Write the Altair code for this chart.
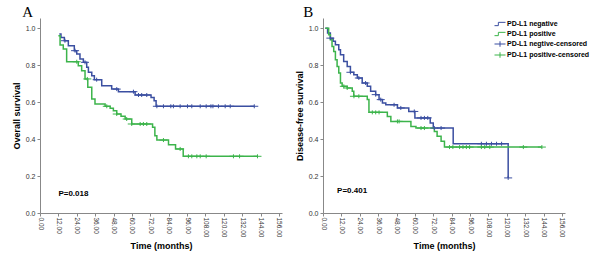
import altair as alt
import pandas as pd

# ---------------- data ----------------
KEYS = ["PD-L1 negative", "PD-L1 positive", "PD-L1 negtive-censored", "PD-L1 positive-censored"]

# Panel A: overall survival
A_NEG_T = [12.6, 13.7, 15.9, 18.5, 22.4, 24.0, 26.1, 28.3, 30.5, 31.6, 33.8, 35.5, 40.3, 46.8, 51.2, 62.1, 72.5, 74.5, 75.8, 139.9]
A_NEG_S = [0.969, 0.951, 0.933, 0.906, 0.879, 0.861, 0.834, 0.816, 0.789, 0.762, 0.743, 0.722, 0.689, 0.671, 0.657, 0.639, 0.626, 0.608, 0.578, 0.578]
A_POS_T = [12.0, 13.1, 15.2, 17.4, 25.0, 27.2, 29.4, 31.2, 33.8, 35.9, 42.5, 45.8, 47.9, 50.1, 52.9, 55.6, 59.9, 73.5, 75.0, 76.3, 83.9, 88.5, 93.5, 142.0]
A_POS_S = [0.960, 0.910, 0.888, 0.819, 0.798, 0.771, 0.726, 0.681, 0.618, 0.590, 0.578, 0.567, 0.554, 0.536, 0.524, 0.509, 0.482, 0.464, 0.419, 0.395, 0.370, 0.347, 0.307, 0.307]
A_NEG_CENS = [16.3, 22.9, 29.4, 37.0, 50.1, 61.0, 64.3, 66.4, 69.7, 76.3, 80.6, 85.4, 87.1, 91.5, 96.3, 99.1, 104.6, 108.5, 111.6, 112.9, 116.5, 120.9, 124.2, 139.9]
A_POS_CENS = [24.0, 30.9, 43.6, 50.1, 56.6, 59.9, 65.4, 67.5, 69.7, 80.6, 91.5, 96.9, 99.1, 102.4, 104.6, 108.5, 126.3, 130.3, 142.0]

# Panel B: disease-free survival
B_NEG_T = [1.5, 3.0, 4.8, 6.6, 8.1, 10.3, 11.4, 13.5, 15.8, 17.9, 20.1, 22.4, 25.6, 28.9, 31.1, 34.4, 36.6, 38.8, 41.0, 48.6, 56.0, 60.0, 70.0, 72.0, 85.0, 120.9]
B_NEG_S = [1.0, 0.975, 0.947, 0.930, 0.911, 0.884, 0.857, 0.821, 0.794, 0.762, 0.749, 0.731, 0.704, 0.686, 0.659, 0.641, 0.614, 0.596, 0.586, 0.569, 0.550, 0.515, 0.487, 0.460, 0.375, 0.190]
B_POS_T = [1.5, 3.7, 4.8, 5.9, 7.0, 8.1, 9.2, 10.3, 11.4, 12.5, 15.8, 19.1, 20.1, 28.9, 30.0, 42.0, 44.3, 57.4, 60.7, 72.7, 74.5, 77.1, 79.3, 142.9]
B_POS_S = [1.0, 0.965, 0.938, 0.902, 0.875, 0.830, 0.794, 0.758, 0.704, 0.686, 0.677, 0.659, 0.632, 0.614, 0.545, 0.523, 0.496, 0.469, 0.460, 0.442, 0.415, 0.388, 0.357, 0.357]
B_NEG_CENS = [4.8, 17.9, 23.4, 27.8, 34.4, 37.7, 46.4, 50.8, 59.6, 64.0, 66.2, 68.4, 72.7, 77.1, 103.4, 106.7, 110.0, 113.3, 116.6, 120.9]
B_POS_CENS = [13.6, 15.8, 20.2, 23.4, 32.2, 34.4, 36.6, 48.6, 49.7, 64.0, 66.2, 82.6, 84.8, 89.2, 91.4, 93.6, 95.7, 103.4, 105.6, 108.9, 130.8, 142.9]

X_TICKS = list(range(0, 157, 12))
Y_TICKS = [0.0, 0.2, 0.4, 0.6, 0.8, 1.0]

BLUE = "#3b4fa1"
GREEN = "#3cb44b"
STEP_PATH = "M-1,0.3L-0.3,0.3L-0.3,-0.3L1,-0.3"
PLUS_PATH = "M-1,0L1,0M0,-0.5L0,0.5"
FONT = "Liberation Sans"


def surv_at(T, S, t):
    val = S[0]
    for ti, si in zip(T, S):
        if ti <= t + 1e-9:
            val = si
    return val


def panel(letter, ytitle, negT, negS, posT, posS, negC, posC, ptext, p_t, p_s, show_legend, title_dx):
    neg = pd.DataFrame({"t": negT, "s": negS})
    pos = pd.DataFrame({"t": posT, "s": posS})
    cens = pd.DataFrame({
        "t": negC + posC,
        "s": [surv_at(negT, negS, t) for t in negC] + [surv_at(posT, posS, t) for t in posC],
        "key": [KEYS[2]] * len(negC) + [KEYS[3]] * len(posC),
    })
    ptxt = pd.DataFrame({"t": [p_t], "s": [p_s], "label": [ptext]})

    x = alt.X("t:Q", scale=alt.Scale(domain=[0, 158], nice=False, zero=False),
              axis=alt.Axis(values=X_TICKS, format=".2f", labelAngle=90, labelAlign="left",
                            labelBaseline="middle", title="Time (months)", labelFontSize=6.5,
                            labelPadding=1, titlePadding=5))
    y = alt.Y("s:Q", scale=alt.Scale(domain=[0, 1.056], nice=False),
              axis=alt.Axis(values=Y_TICKS, format=".1f", title=ytitle, labelFontSize=7,
                            titlePadding=4))

    l1 = alt.Chart(neg).mark_line(interpolate="step-after", strokeWidth=1.5, color=BLUE).encode(x=x, y=y)
    l2 = alt.Chart(pos).mark_line(interpolate="step-after", strokeWidth=1.5, color=GREEN).encode(x=x, y=y)

    if show_legend:
        leg = alt.Legend(orient="none", legendX=171, legendY=0, title=None,
                         labelFont=FONT, labelFontSize=7, labelFontWeight="bold",
                         labelColor="black", symbolSize=121, symbolStrokeWidth=1,
                         symbolFillColor="transparent", rowPadding=-2, padding=0,
                         labelOffset=1)
    else:
        leg = None
    pts = alt.Chart(cens).mark_point(filled=False, strokeWidth=1, size=64, opacity=1).encode(
        x=x, y=y,
        color=alt.Color("key:N", scale=alt.Scale(domain=KEYS, range=[BLUE, GREEN, BLUE, GREEN]), legend=leg),
        shape=alt.Shape("key:N", scale=alt.Scale(domain=KEYS, range=[STEP_PATH, STEP_PATH, PLUS_PATH, PLUS_PATH]), legend=leg),
    )
    txt = alt.Chart(ptxt).mark_text(align="left", baseline="middle", font=FONT, fontSize=8,
                                    fontWeight="bold", color="black").encode(x=x, y=y, text="label:N")

    return alt.layer(l1, l2, pts, txt).properties(
        width=242, height=195,
        title=alt.TitleParams(letter, anchor="start", frame="bounds", font="Liberation Serif",
                              fontSize=15, fontWeight="normal", color="black", dx=title_dx,
                              offset=-2),
    )


pa = panel("A", "Overall survival", A_NEG_T, A_NEG_S, A_POS_T, A_POS_S, A_NEG_CENS, A_POS_CENS,
           "P=0.018", 12.0, 0.103, False, 10)
pb = panel("B", "Disease-free survival", B_NEG_T, B_NEG_S, B_POS_T, B_POS_S, B_NEG_CENS, B_POS_CENS,
           "P=0.401", 9.2, 0.119, True, 8)

chart = alt.hconcat(pa, pb, spacing=13).resolve_scale(color="independent", shape="independent").properties(
    padding={"left": 12, "top": 5, "right": 0, "bottom": 0}
).configure_view(stroke=None).configure_axis(
    grid=False, domainColor="#888888", tickColor="#888888", tickSize=3, labelColor="#333333",
    labelFont=FONT, titleFont=FONT, titleFontSize=9, titleFontWeight="bold", titleColor="black",
    domainWidth=1,
)

chart.save("out.html", embed_options={"renderer": "svg", "actions": False})
